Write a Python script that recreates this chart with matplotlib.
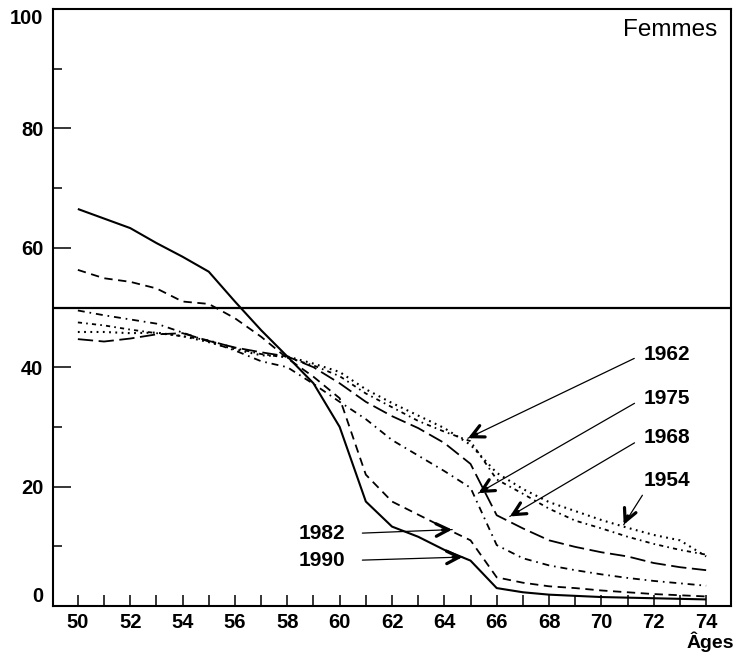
import numpy as np
import matplotlib
matplotlib.use("Agg")
import matplotlib.pyplot as plt
from matplotlib.ticker import MultipleLocator, FixedLocator

plt.rcParams['font.family'] = ['Liberation Sans', 'DejaVu Sans']
plt.rcParams['lines.scale_dashes'] = False

# ---------------- data ----------------
ages = list(range(50, 75))
v1990 = [66.5, 64.9, 63.3, 60.8, 58.5, 56.0, 51.0, 46.2, 41.8, 37.3, 30.0, 17.5, 13.3,
         11.6, 9.4, 7.6, 3.0, 2.3, 1.9, 1.7, 1.5, 1.4, 1.3, 1.2, 1.1]
v1982 = [56.3, 54.9, 54.3, 53.2, 51.0, 50.6, 48.2, 45.1, 41.5, 38.4, 34.8, 22.0, 17.5,
         15.3, 13.1, 11.0, 4.8, 3.9, 3.3, 3.0, 2.6, 2.3, 2.0, 1.8, 1.6]
v1975 = [49.5, 48.7, 48.0, 47.3, 45.8, 44.3, 42.8, 41.0, 40.0, 37.2, 34.2, 31.3, 27.8,
         25.2, 22.6, 19.8, 10.2, 8.0, 6.8, 6.0, 5.3, 4.7, 4.2, 3.8, 3.4]
v1968 = [44.7, 44.3, 44.8, 45.5, 45.7, 44.4, 43.3, 42.5, 41.8, 40.0, 37.3, 34.2, 31.8,
         29.8, 27.3, 23.8, 15.2, 13.0, 11.0, 9.9, 9.0, 8.3, 7.2, 6.5, 6.0]
v1962 = [47.5, 47.0, 46.3, 45.7, 45.2, 44.5, 43.2, 42.2, 41.6, 40.3, 38.5, 35.6, 33.3,
         31.0, 29.2, 27.6, 21.2, 18.8, 16.3, 14.3, 13.0, 11.6, 10.4, 9.4, 8.6]
v1954 = [45.9, 45.9, 45.7, 45.8, 45.2, 44.2, 43.0, 42.0, 41.8, 40.6, 39.2, 36.3, 34.0,
         31.9, 29.8, 27.0, 22.3, 19.6, 17.4, 15.9, 14.4, 13.1, 11.9, 11.0, 8.3]

years = ['1954', '1962', '1968', '1975', '1982', '1990']
series = [v1954, v1962, v1968, v1975, v1982, v1990]
threshold = 50
xticks_major = list(range(50, 75, 2))
yticks_major = [0, 20, 40, 60, 80, 100]
title_text = 'Femmes'
xlabel_text = 'Âges'

# label anchors (text position) and arrow tips, per year
label_pos = {'1962': (71.6, 42.2), '1975': (71.6, 34.8), '1968': (71.6, 28.2),
             '1954': (71.6, 21.0), '1982': (58.45, 12.1), '1990': (58.45, 7.6)}
arrow_tip = {'1962': (64.9, 28.1), '1975': (65.3, 18.9), '1968': (66.5, 15.0),
             '1954': (70.85, 13.6), '1982': (64.3, 12.8), '1990': (64.7, 8.2)}

# ---------------- styles ----------------
styles = {
    '1990': dict(ls='-', lw=1.5),
    '1982': dict(ls=(0, (6, 4)), lw=1.3),
    '1975': dict(ls=(0, (5, 3.5, 1.2, 3.5)), lw=1.3),
    '1968': dict(ls=(0, (11, 4)), lw=1.3),
    '1962': dict(ls=(0, (3, 3, 1.2, 3)), lw=1.3),
    '1954': dict(ls=(0, (1.3, 3.2)), lw=1.5),
}

fig = plt.figure(figsize=(7.35, 6.53), dpi=100)
ax = fig.add_axes([53 / 735, 47 / 653, 678 / 735, 597 / 653])
ax.set_xlim(49.05, 74.95)
ax.set_ylim(0, 100)

for y, vals in zip(years, series):
    ax.plot(ages, vals, color='black', solid_capstyle='butt', dash_capstyle='butt',
            **styles[y])

ax.axhline(threshold, color='black', lw=1.6)

for s in ax.spines.values():
    s.set_linewidth(1.5)

ax.xaxis.set_major_locator(FixedLocator(xticks_major))
ax.xaxis.set_minor_locator(MultipleLocator(1))
ax.yaxis.set_major_locator(FixedLocator(yticks_major))
ax.yaxis.set_minor_locator(MultipleLocator(10))
ax.tick_params(axis='x', which='both', direction='in', length=8, width=1.1,
               pad=5, labelsize=14.5)
ax.tick_params(axis='y', which='major', direction='in', length=13, width=1.1,
               pad=7, labelsize=14.5)
ax.tick_params(axis='y', which='minor', direction='in', length=6.5, width=1.1)
ax.set_xticklabels([str(v) for v in xticks_major], fontweight='bold')
ax.set_yticklabels([str(v) for v in yticks_major], fontweight='bold')
ylabels = ax.get_yticklabels()
ylabels[-1].set_va('top')
ylabels[0].set_va('bottom')

ax.text(0.979, 0.965, title_text, transform=ax.transAxes, ha='right', va='center',
        fontsize=17.5)
fig.text(734 / 735, 1 - 652 / 653, xlabel_text, ha='right', va='bottom',
         fontsize=14, fontweight='bold')

# ---------------- annotations ----------------
for y in years:
    tx, ty = label_pos[y]
    hx, hy = arrow_tip[y]
    if y in ('1982', '1990'):
        ha, relpos, shrinkA = 'left', (1.0, 0.5), 10
    elif y == '1954':
        ha, relpos, shrinkA = 'left', (0.05, 0.0), 2
    else:
        ha, relpos, shrinkA = 'left', (0.0, 0.5), 5
    ax.annotate(y, xy=(hx, hy), xytext=(tx, ty), ha=ha, va='center',
                fontsize=15, fontweight='bold',
                arrowprops=dict(arrowstyle='-', lw=0.9, color='black',
                                relpos=relpos, shrinkA=shrinkA, shrinkB=0))
    # thick open arrow head
    p0 = ax.transData.transform((tx, ty))
    p1 = ax.transData.transform((hx, hy))
    d = p1 - p0
    d = d / np.hypot(*d)
    off = -d * 7.0
    ax.annotate('', xy=(hx, hy), xytext=(off[0], off[1]), textcoords='offset points',
                arrowprops=dict(arrowstyle='->,head_length=0.9,head_width=0.45',
                                lw=2.3, color='black', shrinkA=0, shrinkB=0))

fig.savefig('out.png', dpi=100)
